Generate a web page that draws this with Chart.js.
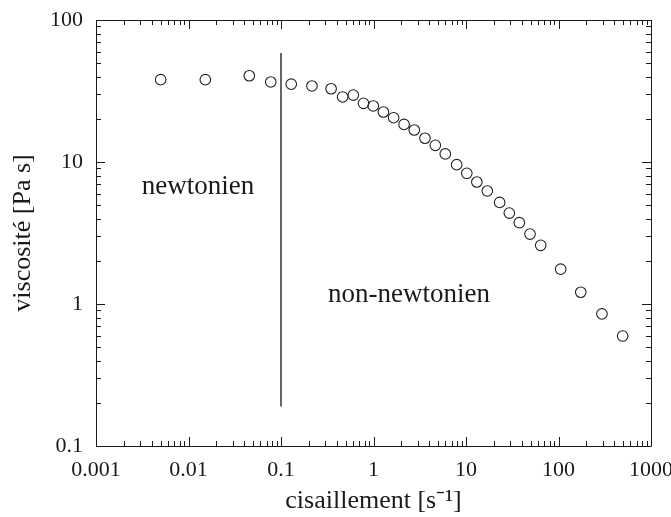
<!DOCTYPE html>
<html><head><meta charset="utf-8">
<script src="https://cdn.jsdelivr.net/npm/chart.js@4/dist/chart.umd.min.js"></script>
<style>html,body{margin:0;padding:0;background:#fff}#wrap{width:671px;height:517px}</style>
</head><body><div id="wrap"><canvas id="c" width="671" height="517"></canvas></div>
<script>
const shearRate = [0.0050,0.0152,0.0454,0.0775,0.129,0.216,0.348,0.464,0.605,0.780,0.995,1.28,1.65,2.14,2.76,3.60,4.66,5.97,7.93,10.2,13.1,17.0,23.1,29.4,37.7,49.2,64.2,105.6,174,295,494];
const viscosity = [38.0,38.0,40.5,36.6,35.3,34.3,32.8,28.7,29.6,25.9,24.8,22.5,20.5,18.4,16.8,14.7,13.1,11.4,9.57,8.33,7.23,6.25,5.19,4.37,3.74,3.11,2.59,1.76,1.21,0.851,0.595];
const dividerX = [0.1,0.1];
const dividerY = [0.19,58.5];
const xTicks = [0.001,0.01,0.1,1,10,100,1000];
const yTicks = [0.1,1,10,100];
const regionLabels = ['newtonien','non-newtonien'];
const regionX = [0.0127,2.42];
const regionY = [6.0,1.04];

const FONT = "'Liberation Serif','Times New Roman',serif";
const INK = '#1a1a1a';

function fmt(v){ return String(v); }

const inwardTicks = {
  id:'inwardTicks',
  afterDraw(chart){
    const {ctx, chartArea:a, scales:{x,y}} = chart;
    ctx.save();
    ctx.strokeStyle = INK; ctx.lineWidth = 1;
    ctx.beginPath();
    ctx.rect(Math.round(a.left)+0.5, Math.round(a.top)+0.5, Math.round(a.right-a.left), Math.round(a.bottom-a.top));
    ctx.stroke();
    const ticksFor = (lo,hi)=>{ const out=[]; for(let e=Math.round(Math.log10(lo)); e<Math.round(Math.log10(hi)); e++){ for(let m=1;m<10;m++){ out.push({v:m*Math.pow(10,e), major:m===1}); } } out.push({v:hi,major:true}); return out; };
    ctx.beginPath();
    for(const t of ticksFor(xTicks[0], xTicks[xTicks.length-1])){
      const px = Math.round(x.getPixelForValue(t.v))+0.5;
      const L = t.major?9:5;
      ctx.moveTo(px,a.bottom); ctx.lineTo(px,a.bottom-L);
      ctx.moveTo(px,a.top); ctx.lineTo(px,a.top+L);
    }
    for(const t of ticksFor(yTicks[0], yTicks[yTicks.length-1])){
      const py = Math.round(y.getPixelForValue(t.v))+0.5;
      const L = t.major?9:5;
      ctx.moveTo(a.left,py); ctx.lineTo(a.left+L,py);
      ctx.moveTo(a.right,py); ctx.lineTo(a.right-L,py);
    }
    ctx.stroke();
    ctx.fillStyle = INK;
    ctx.font = "27px "+FONT;
    ctx.textAlign='center'; ctx.textBaseline='alphabetic';
    regionLabels.forEach((s,i)=>{
      ctx.fillText(s, x.getPixelForValue(regionX[i]), y.getPixelForValue(regionY[i]));
    });
    ctx.restore();
  }
};

function zeroPad(s){ s.paddingLeft=0; s.paddingRight=0; s.paddingTop=0; s.paddingBottom=0; }

new Chart(document.getElementById('c'), {
  data:{
    datasets:[
      {type:'scatter', data: shearRate.map((v,i)=>({x:v,y:viscosity[i]})), pointStyle:'circle', pointRadius:5.3, borderColor:'#222', borderWidth:1.1, backgroundColor:'rgba(0,0,0,0)'},
      {type:'line', data: dividerX.map((v,i)=>({x:v,y:dividerY[i]})), borderColor:'#000', borderWidth:1.2, pointRadius:0, fill:false}
    ]
  },
  options:{
    responsive:false, animation:false, devicePixelRatio:1,
    layout:{padding:{top:20,right:20,left:0,bottom:0}},
    plugins:{legend:{display:false}, tooltip:{enabled:false}},
    scales:{
      x:{type:'logarithmic', min:xTicks[0], max:xTicks[xTicks.length-1],
        afterBuildTicks(s){ s.ticks = xTicks.map(v=>({value:v})); },
        afterFit(s){ s.height = 71; zeroPad(s); },
        grid:{display:false, drawTicks:false}, border:{display:false},
        ticks:{color:INK, font:{family:FONT,size:22}, padding:11, maxRotation:0, autoSkip:false, callback:(v)=>fmt(v)},
        title:{display:true, text:'cisaillement [s\u207B\u00B9]', color:INK, font:{family:FONT,size:26}, padding:{top:0,bottom:0}}
      },
      y:{type:'logarithmic', min:yTicks[0], max:yTicks[yTicks.length-1],
        afterBuildTicks(s){ s.ticks = yTicks.map(v=>({value:v})); },
        afterFit(s){ s.width = 96; zeroPad(s); },
        grid:{display:false, drawTicks:false}, border:{display:false},
        ticks:{color:INK, font:{family:FONT,size:22}, padding:13, autoSkip:false, callback:(v)=>fmt(v)},
        title:{display:true, text:'viscosité [Pa s]', color:INK, font:{family:FONT,size:26}, padding:{top:8,bottom:0}}
      }
    }
  },
  plugins:[inwardTicks]
});
</script>
</body></html>
